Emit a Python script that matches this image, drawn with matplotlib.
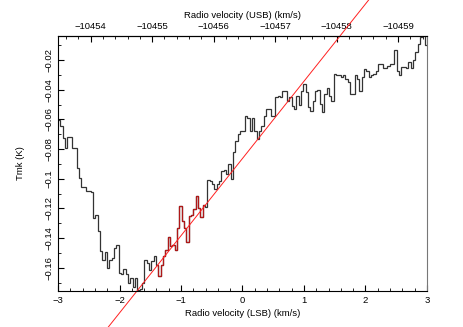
#!/usr/bin/env python3
"""Spectrum (Tmk vs radio velocity) with a linear fit overlaid."""
import numpy as np
import matplotlib
matplotlib.use('Agg')
import matplotlib.pyplot as plt
import matplotlib.ticker as mticker

# channel edges span the LSB velocity range (km/s)
v_lo, v_hi = -3.0, 3.0
# USB velocity = usb_ref - LSB velocity
usb_ref = -10456.47

# antenna temperature per channel (K)
tmk = [
    -0.0602, -0.0643, -0.0722, -0.0790, -0.0717, -0.0717, -0.0790, -0.0790,
    -0.0925, -0.0998, -0.1054, -0.1054, -0.1084, -0.1084, -0.1090, -0.1264,
    -0.1242, -0.1355, -0.1484, -0.1551, -0.1497, -0.1603, -0.1547, -0.1536,
    -0.1468, -0.1445, -0.1637, -0.1642, -0.1610, -0.1642, -0.1705, -0.1667,
    -0.1732, -0.1671, -0.1750, -0.1746, -0.1705, -0.1551, -0.1565, -0.1615,
    -0.1558, -0.1524, -0.1581, -0.1653, -0.1585, -0.1524, -0.1479, -0.1393,
    -0.1456, -0.1450, -0.1479, -0.1332, -0.1181, -0.1287, -0.1332, -0.1429,
    -0.1253, -0.1242, -0.1201, -0.1117, -0.1197, -0.1258, -0.1174, -0.1190,
    -0.1011, -0.1016, -0.1038, -0.1068, -0.1038, -0.1016, -0.0948, -0.0941,
    -0.0971, -0.0903, -0.1004, -0.0819, -0.0745, -0.0699, -0.0677, -0.0677,
    -0.0579, -0.0593, -0.0676, -0.0593, -0.0676, -0.0733, -0.0676, -0.0642,
    -0.0579, -0.0529, -0.0529, -0.0579, -0.0575, -0.0450, -0.0439, -0.0450,
    -0.0405, -0.0405, -0.0473, -0.0450, -0.0507, -0.0529, -0.0439, -0.0502,
    -0.0405, -0.0360, -0.0416, -0.0518, -0.0541, -0.0473, -0.0405, -0.0398,
    -0.0496, -0.0552, -0.0428, -0.0389, -0.0439, -0.0473, -0.0292, -0.0303,
    -0.0303, -0.0315, -0.0303, -0.0326, -0.0349, -0.0428, -0.0428, -0.0303,
    -0.0326, -0.0405, -0.0315, -0.0258, -0.0270, -0.0315, -0.0303, -0.0292,
    -0.0276, -0.0224, -0.0224, -0.0254, -0.0254, -0.0236, -0.0224, -0.0224,
    -0.0134, -0.0270, -0.0303, -0.0247, -0.0247, -0.0254, -0.0213, -0.0254,
    -0.0202, -0.0145, -0.0089, -0.0044, -0.0021, -0.0100,
]
# channels used for the fit (drawn in red)
fit_first, fit_last = 42, 62
# linear fit: Tmk = fit_a + fit_b * v
fit_a, fit_b = -0.0863, 0.0521

x_ticks = [-3, -2, -1, 0, 1, 2, 3]
y_ticks = [-0.16, -0.14, -0.12, -0.1, -0.08, -0.06, -0.04, -0.02]
usb_ticks = [-10454, -10455, -10456, -10457, -10458, -10459]

font = ['Liberation Sans Narrow', 'Liberation Sans', 'DejaVu Sans']
plt.rcParams['font.family'] = font
plt.rcParams['font.size'] = 6.8

fig = plt.figure(figsize=(4.63, 3.27), dpi=100)
ax = fig.add_axes([0.1253, 0.1101, 0.7969, 0.7798])

edges = np.linspace(v_lo, v_hi, len(tmk) + 1)
vals = np.array(tmk)
ax.stairs(vals, edges, color='#333333', lw=0.9, baseline=None)
ax.stairs(vals[fit_first:fit_last + 1], edges[fit_first:fit_last + 2],
          color='#b01818', lw=0.9, baseline=None)

xf = np.array([-3.6, 3.6])
ax.plot(xf, fit_a + fit_b * xf, color='#ff2020', lw=0.7, clip_on=False)

ax.set_xlim(v_lo, v_hi)
ax.set_ylim(-0.1757, -0.0037)
ax.set_xticks(x_ticks)
ax.set_yticks(y_ticks)
ax.xaxis.set_minor_locator(mticker.MultipleLocator(0.2))
ax.yaxis.set_minor_locator(mticker.MultipleLocator(0.01))
ax.yaxis.set_major_formatter(
    mticker.FuncFormatter(lambda v, p: ('%g' % round(v, 4)).replace('-', '\u2212')))
ax.tick_params(which='both', direction='in', top=False, right=False)
ax.tick_params(which='major', length=4, width=0.8)
ax.tick_params(which='minor', length=2, width=0.6)
for lab in ax.get_yticklabels():
    lab.set_rotation(90)
    lab.set_va('center')

ax2 = ax.secondary_xaxis('top', functions=(lambda v: usb_ref - v,
                                           lambda u: usb_ref - u))
ax2.set_xticks(usb_ticks)
ax2.xaxis.set_minor_locator(mticker.MultipleLocator(0.2))
ax2.xaxis.set_major_formatter(
    mticker.FuncFormatter(lambda v, p: ('%d' % round(v)).replace('-', '\u2212')))
ax2.tick_params(which='both', direction='in')
ax2.tick_params(which='major', length=4, width=0.8)
ax2.tick_params(which='minor', length=2, width=0.6)
ax2.set_xlabel('Radio velocity (USB) (km/s)', labelpad=3)

ax.set_xlabel('Radio velocity (LSB) (km/s)', labelpad=3)
ax.set_ylabel('Tmk (K)', labelpad=14)
ax.spines['right'].set_color('#777777')

fig.savefig('out.png', dpi=100)
